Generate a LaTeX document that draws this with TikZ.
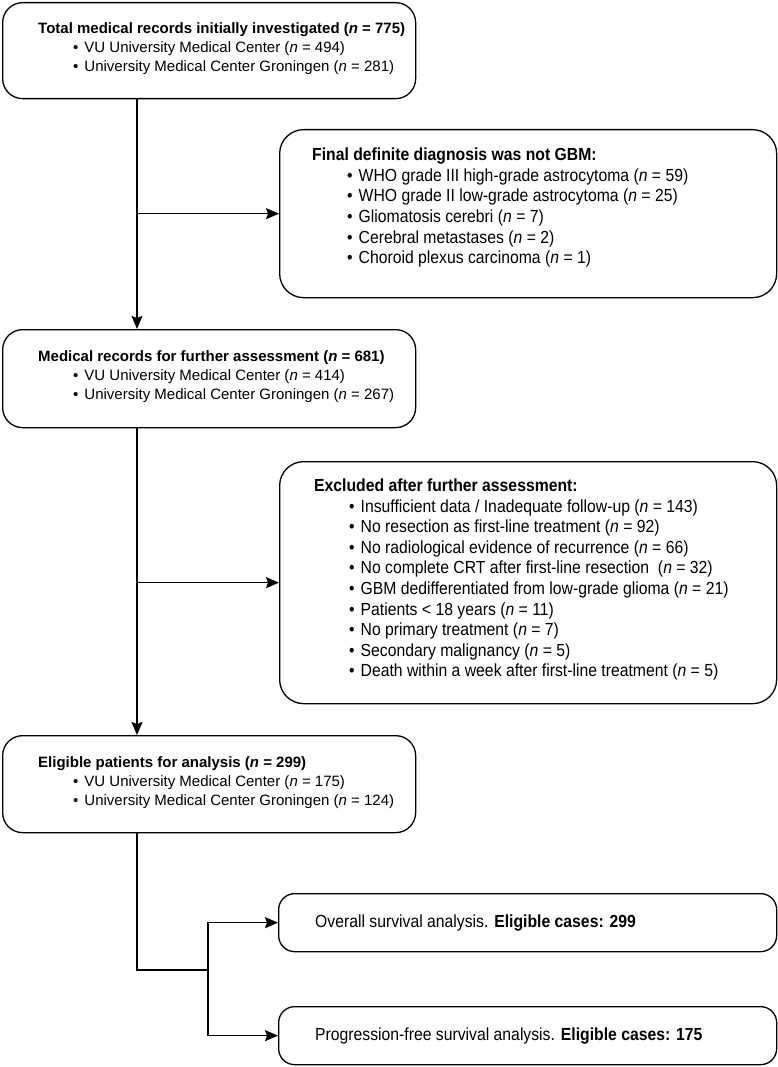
\documentclass[tikz,border=0pt]{standalone}
\usepackage{fontspec}
\setmainfont{Liberation Sans}
\newfontfamily\narrowsf{Liberation Sans}[FakeStretch=0.9]
\usetikzlibrary{arrows.meta}

\begin{document}
\begin{tikzpicture}[x=1pt, y=-1pt,
  flowbox/.style={draw, line width=1.3pt, rounded corners=20pt, inner sep=0pt, anchor=north west},
  widetext/.style={font=\fontsize{15}{19}\selectfont, align=left, inner sep=0pt, anchor=west},
  narrowtext/.style={font=\narrowsf\fontsize{17.5}{20.6}\selectfont, align=left, inner sep=0pt, anchor=west},
  link/.style={line width=1.3pt},
  arr/.style={link, -{Stealth[length=13pt, width=11pt, inset=2pt]}}]
% page size of the flowchart
\useasboundingbox (0,0) rectangle (778,1067);
\providecommand{\flowbullet}{\hspace*{35pt}\textbullet\hspace*{6pt}}
\providecommand{\nn}{\textit{n}}
% boxes of the main column
\node[flowbox, minimum width=413pt, minimum height=96pt] (n1) at (2,2) {};
\node[flowbox, minimum width=413pt, minimum height=98pt] (n3) at (2,329) {};
\node[flowbox, minimum width=413pt, minimum height=97pt] (n5) at (2,735) {};
% boxes on the right
\node[flowbox, rounded corners=24pt, minimum width=497pt, minimum height=168pt] (n2) at (279,129) {};
\node[flowbox, rounded corners=24pt, minimum width=497pt, minimum height=242pt] (n4) at (279,461) {};
\node[flowbox, rounded corners=16pt, minimum width=498pt, minimum height=58pt] (n6) at (278,893) {};
\node[flowbox, rounded corners=16pt, minimum width=498pt, minimum height=58pt] (n7) at (278,1006) {};
% texts
\node[widetext, yshift=2pt] (n1txt) at ([xshift=36pt]n1.west)
  {\textbf{Total medical records initially investigated (\nn{} = 775)}\\
   \flowbullet VU University Medical Center (\nn{} = 494)\\
   \flowbullet University Medical Center Groningen (\nn{} = 281)};
\node[widetext, yshift=2pt] (n3txt) at ([xshift=36pt]n3.west)
  {\textbf{Medical records for further assessment (\nn{} = 681)}\\
   \flowbullet VU University Medical Center (\nn{} = 414)\\
   \flowbullet University Medical Center Groningen (\nn{} = 267)};
\node[widetext, yshift=2pt] (n5txt) at ([xshift=36pt]n5.west)
  {\textbf{Eligible patients for analysis (\nn{} = 299)}\\
   \flowbullet VU University Medical Center (\nn{} = 175)\\
   \flowbullet University Medical Center Groningen (\nn{} = 124)};
\node[narrowtext, yshift=6pt] (n2txt) at ([xshift=33pt]n2.west)
  {\textbf{Final definite diagnosis was not GBM:}\\
   \flowbullet WHO grade III high-grade astrocytoma (\nn{} = 59)\\
   \flowbullet WHO grade II low-grade astrocytoma (\nn{} = 25)\\
   \flowbullet Gliomatosis cerebri (\nn{} = 7)\\
   \flowbullet Cerebral metastases (\nn{} = 2)\\
   \flowbullet Choroid plexus carcinoma (\nn{} = 1)};
\node[narrowtext, yshift=3pt] (n4txt) at ([xshift=35pt]n4.west)
  {\textbf{Excluded after further assessment:}\\
   \flowbullet Insufficient data / Inadequate follow-up (\nn{} = 143)\\
   \flowbullet No resection as first-line treatment (\nn{} = 92)\\
   \flowbullet No radiological evidence of recurrence (\nn{} = 66)\\
   \flowbullet No complete CRT after first-line resection~ (\nn{} = 32)\\
   \flowbullet GBM dedifferentiated from low-grade glioma (\nn{} = 21)\\
   \flowbullet Patients < 18 years (\nn{} = 11)\\
   \flowbullet No primary treatment (\nn{} = 7)\\
   \flowbullet Secondary malignancy (\nn{} = 5)\\
   \flowbullet Death within a week after first-line treatment (\nn{} = 5)};
\node[narrowtext] (n6txt) at ([xshift=37pt]n6.west)
  {Overall survival analysis. \textbf{Eligible cases: 299}};
\node[narrowtext] (n7txt) at ([xshift=37pt]n7.west)
  {Progression-free survival analysis. \textbf{Eligible cases: 175}};
% connectors
\coordinate (trunk) at (137,0);
\coordinate (fork) at (208,970);
\draw[arr] (trunk |- n1.south) -- (trunk |- n3.north);
\draw[arr] (trunk |- n2.west) -- (n2.west);
\draw[arr] (trunk |- n3.south) -- (trunk |- n5.north);
\draw[arr] (trunk |- n4.west) -- (n4.west);
\draw[link] (trunk |- n5.south) |- (fork);
\draw[arr] (fork) |- (n6.west);
\draw[arr] (fork) |- (n7.west);
\end{tikzpicture}
\end{document}
